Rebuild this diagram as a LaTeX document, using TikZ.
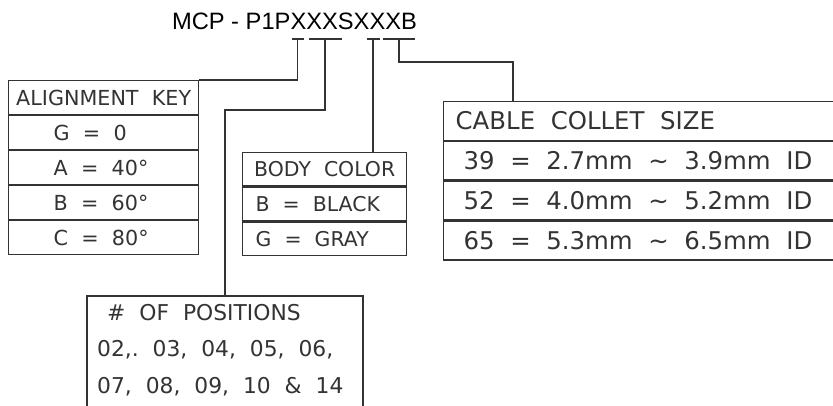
\documentclass[tikz,border=0pt]{standalone}
\usepackage{fontspec}
\setmainfont{DejaVu Sans}
\newfontfamily\titlefont{Liberation Sans}
\usetikzlibrary{positioning}
\newcommand{\gap}{\hspace{.64em}}
\begin{document}
\begin{tikzpicture}[x=1pt,y=-1pt,
  ln/.style={draw=black!80,line width=1.4pt},
  cell/.style={ln,inner xsep=0pt,inner ysep=0pt,text depth=0pt,text=black!80,align=left},
  akcell/.style={cell,minimum width=190pt,minimum height=33.6pt,text height=15pt,font=\fontsize{20.7}{24}\selectfont},
  bccell/.style={cell,minimum width=164pt,minimum height=33.3pt,text height=14.9pt,font=\fontsize{20.4}{24}\selectfont},
  cscell/.style={cell,minimum width=410pt,minimum height=38.5pt,text height=17.7pt,font=\fontsize{24.4}{28}\selectfont}]
\useasboundingbox (0,0) rectangle (833,405);
\clip (0,0) rectangle (833,405);

% part number
\node[font=\titlefont\fontsize{23.7}{28}\selectfont,text=black] (title) at (294.5,21.5) {MCP - P1PXXXSXXXB};
\foreach \l/\r/\s/\n in {292/304/297.5/1, 309/342/325/2, 367/380/373/3, 383/415/399/4}
{
   \coordinate (bl\n) at (\l,39);
   \coordinate (br\n) at (\r,39);
   \coordinate (s\n) at (\s,39);
   \draw[ln] (bl\n)--(br\n);
}

% alignment key
\node[akcell,align=center,text width=176pt,anchor=north west] (akhead) at (8,80) {ALIGNMENT\gap KEY};
\node[akcell,text width=100pt,below=0pt of akhead] (akg) {G\gap =\gap 0};
\node[akcell,text width=100pt,below=0pt of akg] (aka) {A\gap =\gap 40°};
\node[akcell,text width=100pt,below=0pt of aka] (akb) {B\gap =\gap 60°};
\node[akcell,text width=100pt,below=0pt of akb] (akc) {C\gap =\gap 80°};

% body color
\node[bccell,align=center,text width=150pt,anchor=north west] (bchead) at (242,152) {BODY\gap COLOR};
\node[bccell,text width=138pt,below=0pt of bchead] (bcb) {B\gap =\gap BLACK};
\node[bccell,text width=138pt,below=0pt of bcb] (bcg) {G\gap =\gap GRAY};

% cable collet
\node[cscell,text width=386pt,anchor=north west] (cshead) at (443,101) {CABLE\gap COLLET\gap SIZE};
\node[cscell,text width=370pt,below=0pt of cshead] (cs39) {39\gap =\gap 2.7mm\gap \textasciitilde\gap 3.9mm\gap ID};
\node[cscell,text width=370pt,below=0pt of cs39] (cs52) {52\gap =\gap 4.0mm\gap \textasciitilde\gap 5.2mm\gap ID};
\node[cscell,text width=370pt,below=0pt of cs52] (cs65) {65\gap =\gap 5.3mm\gap \textasciitilde\gap 6.5mm\gap ID};

% positions (box runs off the bottom)
\draw[ln] (87,420) |- (363,296) -- (363,420);
\coordinate (ptop) at (225,296);
\node[text=black!80,align=left,anchor=north west,inner sep=0pt,
      font=\fontsize{21.8}{36.5}\selectfont] (pos) at (97,304)
  {\hspace*{10pt}\#\gap OF\gap POSITIONS\\ 02,.\gap 03,\gap 04,\gap 05,\gap 06,\\ 07,\gap 08,\gap 09,\gap 10\gap \&\gap 14};

% leaders
\coordinate (k2) at (325,110);
\coordinate (k4) at (513,62);
\draw[ln] (s1) |- (akhead.north east);
\draw[ln] (s2)--(k2) -| (ptop);
\draw[ln] (s3)--(s3 |- bchead.north);
\draw[ln] (s4) |- (k4)--(k4 |- cshead.north);
\end{tikzpicture}
\end{document}
